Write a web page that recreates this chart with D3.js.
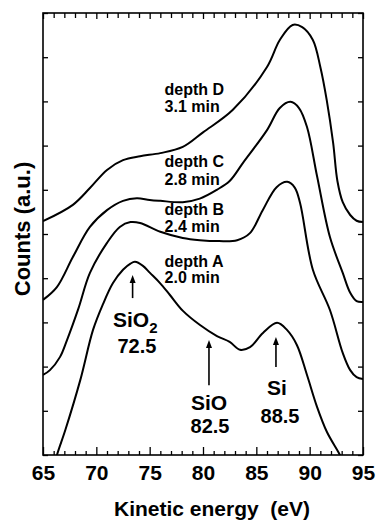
<!DOCTYPE html>
<html>
<head>
<meta charset="utf-8">
<script src="https://cdn.jsdelivr.net/npm/d3@7"></script>
<style>
  html, body { margin: 0; padding: 0; background: #fff; }
  svg { display: block; }
  text { font-family: "Liberation Sans", Arial, Helvetica, sans-serif; fill: #000; }
</style>
</head>
<body>
<svg id="chart" width="376" height="521"></svg>
<script>
// ---------------- data ----------------
const xDomain = [65, 95];
const yDomain = [0, 10];
const xMajorTicks = [65, 70, 75, 80, 85, 90, 95];
const xMinorTicks = d3.range(65, 96, 1).filter(v => v % 5 !== 0);
const yTicks = d3.range(0, 11, 1);

const energyD = [65, 67.8, 69.4, 71, 72.5, 74.1, 76, 78.1, 80, 82.8, 86, 87.2, 88.4, 89.3, 90.3, 91, 91.6, 92.2, 92.6, 93.1, 93.8, 94.4, 95];
const countsD = [5.29, 5.66, 6.04, 6.45, 6.67, 6.76, 6.83, 6.97, 7.3, 7.81, 8.78, 9.39, 9.73, 9.68, 9.39, 8.78, 8.03, 7.06, 6.2, 5.72, 5.43, 5.3, 5.27];

const energyC = [65, 66.3, 67.8, 69.4, 71, 72.5, 73.8, 75, 76, 78.1, 79.7, 81.3, 82.5, 83.75, 86, 87.2, 88.2, 89, 89.75, 90.7, 91.9, 93.1, 93.8, 94.4, 95];
const countsC = [3.51, 3.8, 4.48, 5.16, 5.54, 5.75, 5.81, 5.77, 5.75, 5.72, 5.8, 6.0, 6.2, 6.61, 7.35, 7.85, 7.99, 7.85, 7.42, 6.3, 4.93, 4.12, 3.67, 3.48, 3.46];

const energyB = [65, 65.65, 66.6, 67.25, 68.3, 69.4, 71, 72.2, 73.2, 74.1, 76, 78.1, 79.7, 81.5, 83.2, 84.4, 85.6, 86.9, 87.9, 88.6, 89.1, 90.3, 91.9, 93.1, 93.8, 94.4, 95];
const countsB = [1.81, 1.92, 2.22, 2.6, 3.3, 4.12, 4.8, 5.16, 5.27, 5.25, 5.05, 4.91, 4.86, 4.84, 4.86, 5.02, 5.54, 6.06, 6.18, 6.05, 5.7, 4.19, 3.28, 2.31, 1.92, 1.76, 1.72];

const energyA = [66.0, 66.31, 67.1, 68.5, 69.69, 70.6, 71.56, 72.5, 73.2, 73.62, 74.37, 75.03, 75.97, 76.9, 78.12, 79.72, 81.31, 82.5, 83.47, 84.41, 85.62, 86.94, 87.87, 88.8, 89.75, 90.69, 91.62, 92.84, 93.2];
const countsA = [-0.3, 0, 0.57, 1.7, 2.83, 3.4, 3.89, 4.19, 4.33, 4.37, 4.28, 4.12, 3.89, 3.62, 3.26, 2.94, 2.69, 2.56, 2.38, 2.44, 2.76, 2.99, 2.83, 2.49, 1.81, 1.09, 0.52, 0, -0.2];

const depthNames = ["depth D", "depth C", "depth B", "depth A"];
const depthTimes = ["3.1 min", "2.8 min", "2.4 min", "2.0 min"];
const depthLabelE = [76.4, 76.4, 76.4, 76.4];
const depthLabelY = [8.14, 6.52, 5.43, 4.25];
const depthTimeY = [7.76, 6.11, 5.05, 3.89];

// peak annotations: arrow x (eV), arrow tip / tail (counts)
const peakNames = ["SiO2", "SiO", "Si"];
const peakValues = ["72.5", "82.5", "88.5"];
const arrowE = [73.4, 80.56, 86.84];
const arrowTip = [4.07, 2.60, 2.67];
const arrowTail = [3.55, 1.58, 1.99];
const nameE = [71.56, 80.56, 86.94];
const nameY = [2.90, 1.02, 1.36];
const valueE = [73.8, 80.66, 87.22];
const valueY = [2.31, 0.50, 0.72];

// ---------------- chart ----------------
const W = 376, H = 521;
const m = { left: 43, right: 13, top: 13, bottom: 66 };
const svg = d3.select("#chart");
const x = d3.scaleLinear().domain(xDomain).range([m.left, W - m.right]);
const y = d3.scaleLinear().domain(yDomain).range([H - m.bottom, m.top]);

svg.append("defs").append("clipPath").attr("id", "plotclip")
  .append("rect").attr("x", m.left).attr("y", m.top)
  .attr("width", W - m.left - m.right).attr("height", H - m.top - m.bottom);

const line = d3.line().x(d => x(d[0])).y(d => y(d[1])).curve(d3.curveCatmullRom.alpha(0.5));
const series = [
  d3.zip(energyD, countsD),
  d3.zip(energyC, countsC),
  d3.zip(energyB, countsB),
  d3.zip(energyA, countsA)
];
svg.append("g").attr("clip-path", "url(#plotclip)")
  .selectAll("path").data(series).join("path")
  .attr("d", line).attr("fill", "none").attr("stroke", "#000")
  .attr("stroke-width", 2).attr("stroke-linejoin", "round");

// axes
const fontFam = '"Liberation Sans", Arial, Helvetica, sans-serif';
function styleAxis(g) {
  g.select(".domain").remove();
  g.selectAll(".tick line").attr("stroke", "#000").attr("stroke-width", 1.3);
}
const bottomMajor = svg.append("g").attr("transform", `translate(0,${H - m.bottom})`)
  .call(d3.axisBottom(x).tickValues(xMajorTicks).tickSize(-8).tickPadding(10).tickFormat(d3.format("d")));
styleAxis(bottomMajor);
bottomMajor.selectAll("text").attr("font-size", 21).attr("font-weight", "bold").attr("font-family", fontFam).attr("fill", "#000");
svg.append("g").attr("transform", `translate(0,${H - m.bottom})`)
  .call(d3.axisBottom(x).tickValues(xMinorTicks).tickSize(-4).tickFormat("")).call(styleAxis);
svg.append("g").attr("transform", `translate(0,${m.top})`)
  .call(d3.axisTop(x).tickValues(xMajorTicks).tickSize(-6).tickFormat("")).call(styleAxis);
svg.append("g").attr("transform", `translate(0,${m.top})`)
  .call(d3.axisTop(x).tickValues(xMinorTicks).tickSize(-5).tickFormat("")).call(styleAxis);
svg.append("g").attr("transform", `translate(${m.left},0)`)
  .call(d3.axisLeft(y).tickValues(yTicks).tickSize(-5).tickFormat("")).call(styleAxis);
svg.append("g").attr("transform", `translate(${W - m.right},0)`)
  .call(d3.axisRight(y).tickValues(yTicks).tickSize(-5).tickFormat("")).call(styleAxis);

svg.append("rect").attr("x", m.left).attr("y", m.top)
  .attr("width", W - m.left - m.right).attr("height", H - m.top - m.bottom)
  .attr("fill", "none").attr("stroke", "#000").attr("stroke-width", 1.6);

// axis titles
svg.append("text").attr("x", 212).attr("y", 516).attr("text-anchor", "middle")
  .attr("font-size", 21).attr("font-weight", "bold").attr("xml:space", "preserve")
  .text("Kinetic energy  (eV)");
svg.append("text").attr("transform", "translate(30,229) rotate(-90)").attr("text-anchor", "middle")
  .attr("font-size", 22).attr("font-weight", "bold")
  .text("Counts (a.u.)");

// depth labels
const dl = svg.append("g").attr("font-size", 16).attr("font-weight", "bold");
depthNames.forEach((n, i) => {
  dl.append("text").attr("x", x(depthLabelE[i])).attr("y", y(depthLabelY[i])).text(n);
  dl.append("text").attr("x", x(depthLabelE[i])).attr("y", y(depthTimeY[i])).text(depthTimes[i]);
});

// peak annotations
const pa = svg.append("g");
peakNames.forEach((n, i) => {
  const ax = x(arrowE[i]), tip = y(arrowTip[i]), tail = y(arrowTail[i]);
  pa.append("line").attr("x1", ax).attr("x2", ax).attr("y1", tip + 5).attr("y2", tail)
    .attr("stroke", "#000").attr("stroke-width", 1.6);
  pa.append("path").attr("d", `M${ax},${tip} L${ax - 3},${tip + 8} L${ax + 3},${tip + 8} Z`).attr("fill", "#000");
  const t = pa.append("text").attr("y", y(nameY[i])).attr("font-size", 21).attr("font-weight", "bold");
  if (n === "SiO2") {
    t.attr("x", x(nameE[i])).attr("text-anchor", "start");
    t.append("tspan").text("SiO");
    t.append("tspan").attr("font-size", 15).attr("dy", 6).text("2");
  } else {
    t.attr("x", x(nameE[i])).attr("text-anchor", "middle").text(n);
  }
  pa.append("text").attr("x", x(valueE[i])).attr("y", y(valueY[i])).attr("text-anchor", "middle")
    .attr("font-size", 20).attr("font-weight", "bold").text(peakValues[i]);
});
</script>
</body>
</html>
